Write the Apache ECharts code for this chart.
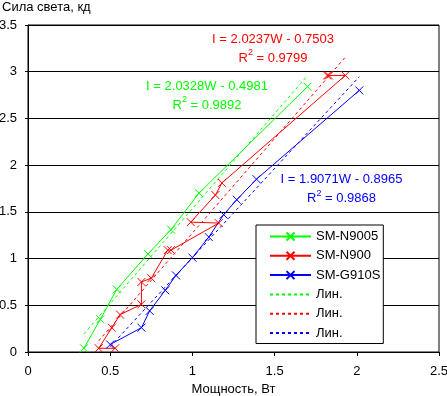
<!doctype html>
<html>
<head>
    <meta charset="utf-8">
    <title>Сила света</title>
    <script src="https://cdn.jsdelivr.net/npm/echarts@6/dist/echarts.min.js"></script>
</head>
<style>
    html, body { margin: 0; padding: 0; background: #fff; }
    #chart { width: 447px; height: 396px; }
</style>
<body>
<div id="chart"></div>
<script>
  // measured points (power W, luminous intensity cd)
  var n9005W = [0.34, 0.44, 0.54, 0.73, 0.87, 1.04, 1.70];
  var n9005I = [0.04, 0.35, 0.67, 1.05, 1.31, 1.70, 2.84];

  var n900W = [0.53, 0.43, 0.51, 0.56, 0.69, 0.69, 0.75, 0.85, 0.87, 1.16, 0.99, 1.14, 1.18, 1.93, 1.83, 1.82];
  var n900I = [0.04, 0.04, 0.26, 0.40, 0.51, 0.75, 0.79, 1.09, 1.09, 1.38, 1.39, 1.68, 1.81, 2.96, 2.96, 2.96];

  var g910sW = [0.50, 0.69, 0.74, 0.835, 0.90, 1.00, 1.10, 1.19, 1.27, 1.39, 2.015];
  var g910sI = [0.08, 0.26, 0.44, 0.66, 0.82, 1.01, 1.23, 1.47, 1.63, 1.85, 2.80];

  // linear trendlines as printed on the chart: [slope, intercept, R2]
  var n9005Fit = [2.0328, -0.4981, 0.9892];
  var n900Fit = [2.0237, -0.7503, 0.9799];
  var g910sFit = [1.9071, -0.8965, 0.9868];

  var names = ['SM-N9005', 'SM-N900', 'SM-G910S'];
  var colors = ['#00ff00', '#ff0000', '#0000ff'];
  var xTicks = [0, 0.5, 1, 1.5, 2, 2.5];
  var yTicks = [0, 0.5, 1, 1.5, 2, 2.5, 3, 3.5];

  var font = 'Liberation Sans, Arial, sans-serif';
  var cross = 'path://M0,0L10,10M10,0L0,10';

  function pairs(xs, ys) {
    return xs.map(function (x, i) { return [x, ys[i]]; });
  }
  function trend(xs, fit) {
    var lo = Math.min.apply(null, xs), hi = Math.max.apply(null, xs);
    return [[lo, fit[0] * lo + fit[1]], [hi, fit[0] * hi + fit[1]]];
  }
  function eqText(fit) {
    var b = fit[1] < 0 ? ' - ' + (-fit[1]).toFixed(4) : ' + ' + fit[1].toFixed(4);
    return 'I = ' + fit[0].toFixed(4) + 'W' + b + '\nR{sup|2} = ' + fit[2].toFixed(4);
  }

  var sets = [[n9005W, n9005I, n9005Fit], [n900W, n900I, n900Fit], [g910sW, g910sI, g910sFit]];
  var series = [];
  sets.forEach(function (s, k) {
    series.push({
      name: names[k], type: 'line', data: pairs(s[0], s[1]),
      symbol: cross, symbolSize: 8, showSymbol: true,
      itemStyle: { color: colors[k], borderColor: colors[k], borderWidth: 1 },
      lineStyle: { color: colors[k], width: 1 },
      emphasis: { disabled: true }, z: 3
    });
  });
  sets.forEach(function (s, k) {
    series.push({
      name: 'Лин. ' + names[k], type: 'line', data: trend(s[0], s[2]),
      symbol: 'none',
      itemStyle: { color: colors[k] },
      lineStyle: { color: colors[k], width: 1, type: [3, 3] },
      emphasis: { disabled: true }, z: 2
    });
  });

  var legendData = names.map(function (n) { return { name: n }; }).concat(names.map(function (n) {
    return { name: 'Лин. ' + n, itemStyle: { color: 'transparent', borderColor: 'transparent', borderWidth: 0 } };
  }));

  var eqPos = [[207, 95.5], [273, 48.5], [341.5, 189]];
  var graphics = sets.map(function (s, k) {
    return {
      type: 'text', x: eqPos[k][0], y: eqPos[k][1], z: 10,
      style: {
        text: eqText(s[2]), fill: colors[k], font: '13px ' + font,
        align: 'center', verticalAlign: 'middle', lineHeight: 19,
        rich: { sup: { fontSize: 9, fontFamily: font, fill: colors[k], verticalAlign: 'top', lineHeight: 19 } }
      }
    };
  });

  var chart = echarts.init(document.getElementById('chart'));
  chart.setOption({
    animation: false,
    title: {
      text: 'Сила света, кд', left: 2, top: 1, padding: 0,
      textStyle: { fontFamily: font, fontSize: 13, fontWeight: 'normal', color: '#000' }
    },
    grid: {
      left: 28, right: 8, top: 25, bottom: 44, outerBoundsMode: 'none', containLabel: false,
      show: true, borderColor: '#000', borderWidth: 1, backgroundColor: '#fff'
    },
    legend: {
      orient: 'vertical', left: 256, top: 225, padding: [5, 3, 4, 13],
      itemWidth: 41, itemHeight: 10, itemGap: 6.3,
      backgroundColor: '#fff', borderColor: '#000', borderWidth: 1,
      selectedMode: false,
      textStyle: { fontFamily: font, fontSize: 13, color: '#000' },
      data: legendData,
      formatter: function (n) { return n.indexOf('Лин.') === 0 ? 'Лин.' : n; }
    },
    xAxis: {
      type: 'value', min: xTicks[0], max: xTicks[xTicks.length - 1], interval: 0.5,
      name: 'Мощность, Вт', nameLocation: 'middle', nameGap: 28,
      nameTextStyle: { fontFamily: font, fontSize: 13, color: '#000' },
      axisLine: { show: true, lineStyle: { color: '#000', width: 1 } },
      axisTick: { show: true, length: 4, lineStyle: { color: '#000' } },
      axisLabel: { fontFamily: font, fontSize: 13, color: '#000', margin: 13 },
      splitLine: { show: false }
    },
    yAxis: {
      type: 'value', min: yTicks[0], max: yTicks[yTicks.length - 1], interval: 0.5,
      axisLine: { show: true, lineStyle: { color: '#000', width: 1 } },
      axisTick: { show: true, length: 3, lineStyle: { color: '#000' } },
      axisLabel: { fontFamily: font, fontSize: 13, color: '#000', margin: 11 },
      splitLine: { show: true, lineStyle: { color: '#000', width: 1 } }
    },
    graphic: graphics,
    series: series
  });
</script>
</body>
</html>
